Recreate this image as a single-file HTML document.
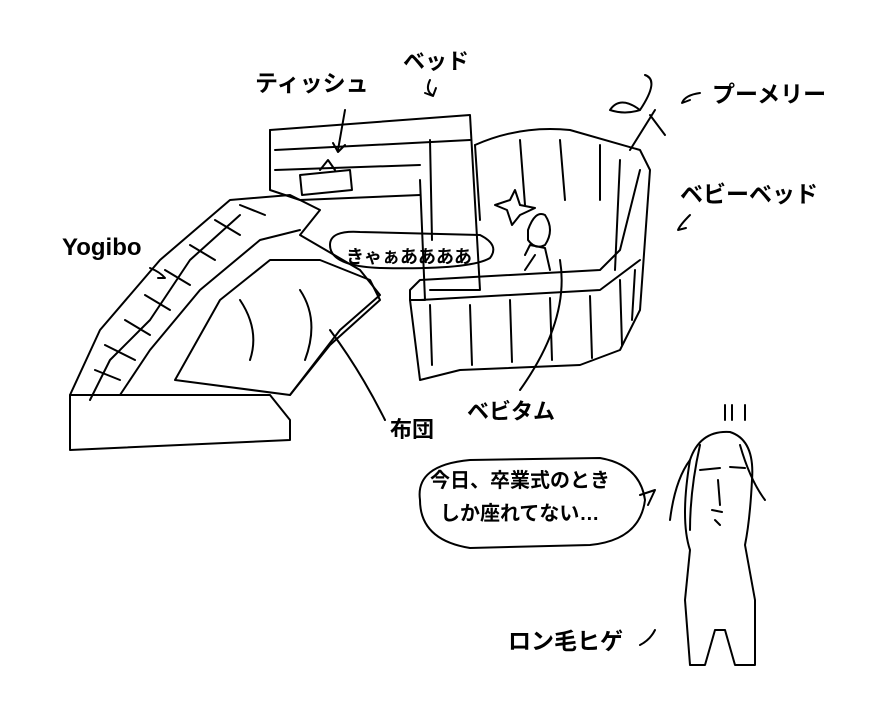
<!DOCTYPE html>
<html><head><meta charset="utf-8"><style>
html,body{margin:0;padding:0;background:#fff;}
body{width:890px;height:705px;overflow:hidden;position:relative;}
svg{position:absolute;left:0;top:0;}
text{font-family:"Liberation Sans","Noto Sans CJK JP",sans-serif;font-weight:bold;fill:#000;}
</style></head><body>
<svg width="890" height="705" viewBox="0 0 890 705" fill="none" stroke="#000" stroke-width="2" stroke-linecap="round" stroke-linejoin="round">
<path d="M70 395 L120 395 L270 395 L290 420 L290 440 L70 450 Z"/>
<path d="M70 395 L100 330 L160 260 L230 200 L290 195 L320 210 L300 235 L360 270 L380 295 L340 330 L290 395"/>
<path d="M90 400 L110 360 L150 320 L190 260 L240 215"/>
<path d="M120 395 L150 350 L200 290 L260 240 L300 230"/>
<path d="M95 370 L120 380 M105 345 L135 360 M125 320 L150 335 M145 295 L170 310 M165 270 L190 285 M190 245 L215 260 M215 220 L240 235 M240 205 L265 215"/>
<path d="M175 380 L220 300 L270 260 L320 260 L370 280 L380 300 L330 345 L290 395 Z"/>
<path d="M240 300 Q260 330 250 360 M300 290 Q320 320 305 360"/>
<path d="M270 130 L470 115 L480 290 L430 290"/>
<path d="M270 130 L270 190 L300 200 M275 150 L470 140 M275 170 L420 165 M300 200 L420 195"/>
<path d="M420 180 L425 300 L410 300"/>
<path d="M430 140 L432 240"/>
<path d="M300 175 L350 170 L352 190 L302 195 Z M320 170 L328 160 L335 170"/>
<path d="M475 145 Q520 125 570 130 L640 150 L650 170 L640 310 L620 350 L580 365 L460 370 L420 380 L410 300 L410 290 L420 280 L600 270 L620 250 L640 170"/>
<path d="M475 145 L480 220 M520 140 L525 205 M560 140 L565 200 M600 145 L600 200 M620 160 L615 270"/>
<path d="M420 300 L600 290 L640 260"/>
<path d="M430 305 L432 365 M470 305 L472 365 M510 300 L512 362 M550 298 L552 360 M590 296 L592 358 M620 280 L622 345 M635 270 L632 320"/>
<path d="M630 150 L655 110 M640 110 Q620 95 610 110 Q625 115 640 110 M640 110 Q660 80 645 75 M650 115 L665 135"/>
<path d="M330 245 Q330 230 360 232 L480 235 Q500 245 490 258 Q470 270 380 268 Q330 266 330 245 Z"/>
<path d="M528 230 Q535 210 545 215 Q555 230 545 245 Q535 250 528 240 Z M525 255 L530 245 L545 248 L550 270 M525 270 L535 255"/>
<path d="M515 190 L520 205 L535 208 L520 215 L512 225 L507 210 L495 205 L510 200 Z"/>
<path d="M345 110 L338 150 M333 143 L338 152 L345 145"/>
<path d="M430 80 Q425 90 432 95 M425 93 L433 96 L436 88"/>
<path d="M700 93 Q685 95 682 103 L690 100"/>
<path d="M690 215 Q680 225 678 230 L686 228"/>
<path d="M150 268 Q160 272 165 278 L158 278"/>
<path d="M330 330 Q360 370 385 420"/>
<path d="M560 260 Q570 320 520 390"/>
<path d="M655 630 Q650 640 640 645"/>
<path d="M420 500 Q415 465 470 460 L600 458 Q640 465 645 500 Q640 540 590 545 L470 548 Q420 540 420 500 Z M640 495 L655 490 L648 505"/>
<path d="M690 460 Q700 430 730 432 Q755 440 752 480 Q750 520 745 545 L755 600 L755 665 L735 665 L725 630 L715 630 L705 665 L690 665 L685 600 L690 550 Q680 520 690 460 Z"/>
<path d="M690 460 Q675 480 670 520 M700 445 Q690 490 690 530 M740 445 Q750 480 765 500"/>
<path d="M700 470 L720 468 M730 467 L745 468 M718 480 L720 505 M712 510 L722 512 M715 520 L720 525"/>
<path d="M725 405 L725 420 M732 405 L732 420 M745 405 L745 420"/>
</svg>
<svg width="890" height="705">
<text x="255" y="91" font-size="23">ティッシュ</text>
<text x="403" y="69" font-size="22">ベッド</text>
<text x="712" y="102" font-size="23">プーメリー</text>
<text x="680" y="202" font-size="23">ベビーベッド</text>
<text x="62" y="255" font-size="24">Yogibo</text>
<text x="346" y="263" font-size="18">きゃぁああああ</text>
<text x="390" y="437" font-size="22">布団</text>
<text x="467" y="419" font-size="22">ベビタム</text>
<text x="430" y="487" font-size="20">今日、卒業式のとき</text>
<text x="440" y="520" font-size="20">しか座れてない…</text>
<text x="508" y="649" font-size="23">ロン毛ヒゲ</text>
</svg>
</body></html>
